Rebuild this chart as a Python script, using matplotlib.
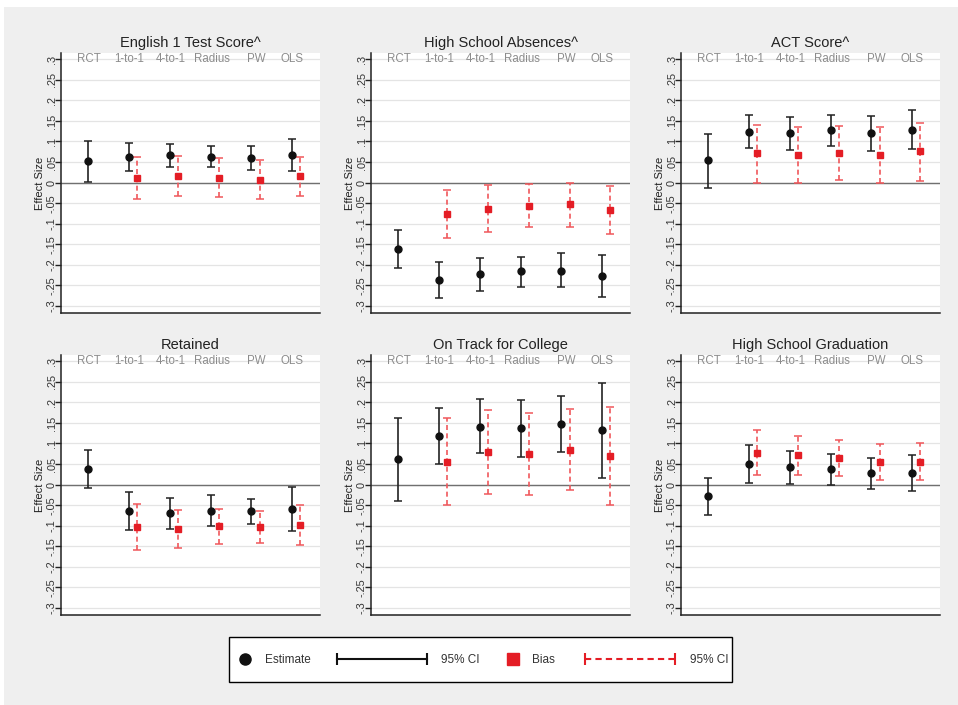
import numpy as np
import matplotlib
matplotlib.use("Agg")
import matplotlib.pyplot as plt
from matplotlib.lines import Line2D
from matplotlib.patches import Rectangle
from matplotlib.legend_handler import HandlerLine2D

plt.rcParams['font.family'] = ['Liberation Sans', 'DejaVu Sans']

# ---------------- data ----------------
methods = ["RCT", "1-to-1", "4-to-1", "Radius", "PW", "OLS"]
label_pos = [1.02, 2.0, 3.01, 4.02, 5.12, 6.0]
titles = ["English 1 Test Score^", "High School Absences^", "ACT Score^",
          "Retained", "On Track for College", "High School Graduation"]
ytick_vals = [0.3, 0.25, 0.2, 0.15, 0.1, 0.05, 0.0, -0.05, -0.1, -0.15, -0.2, -0.25, -0.3]
ytick_labels = [".3", ".25", ".2", ".15", ".1", ".05", "0", "-.05", "-.1", "-.15", "-.2", "-.25", "-.3"]

# English 1 Test Score
eng_est = [0.052, 0.062, 0.067, 0.063, 0.059, 0.067]
eng_est_lo = [0.002, 0.029, 0.039, 0.037, 0.030, 0.028]
eng_est_hi = [0.102, 0.097, 0.095, 0.089, 0.088, 0.105]
eng_bias = [0.011, 0.015, 0.011, 0.007, 0.015]
eng_bias_lo = [-0.041, -0.033, -0.036, -0.039, -0.033]
eng_bias_hi = [0.061, 0.064, 0.059, 0.054, 0.062]

# High School Absences
abs_est = [-0.161, -0.237, -0.223, -0.216, -0.214, -0.227]
abs_est_lo = [-0.208, -0.280, -0.263, -0.255, -0.255, -0.279]
abs_est_hi = [-0.115, -0.192, -0.184, -0.180, -0.172, -0.176]
abs_bias = [-0.076, -0.063, -0.057, -0.053, -0.066]
abs_bias_lo = [-0.135, -0.119, -0.109, -0.107, -0.124]
abs_bias_hi = [-0.017, -0.007, -0.004, 0.000, -0.008]

# ACT Score
act_est = [0.054, 0.124, 0.120, 0.127, 0.120, 0.129]
act_est_lo = [-0.013, 0.083, 0.080, 0.089, 0.077, 0.081]
act_est_hi = [0.119, 0.165, 0.160, 0.164, 0.163, 0.176]
act_bias = [0.071, 0.067, 0.073, 0.067, 0.076]
act_bias_lo = [0.000, -0.002, 0.007, -0.002, 0.005]
act_bias_hi = [0.141, 0.134, 0.138, 0.134, 0.145]

# Retained
ret_est = [0.037, -0.064, -0.070, -0.063, -0.065, -0.059]
ret_est_lo = [-0.009, -0.111, -0.107, -0.101, -0.096, -0.114]
ret_est_hi = [0.083, -0.019, -0.033, -0.026, -0.035, -0.006]
ret_bias = [-0.102, -0.108, -0.101, -0.102, -0.098]
ret_bias_lo = [-0.158, -0.155, -0.145, -0.143, -0.146]
ret_bias_hi = [-0.047, -0.061, -0.059, -0.063, -0.049]

# On Track for College
otc_est = [0.062, 0.119, 0.141, 0.137, 0.147, 0.133]
otc_est_lo = [-0.040, 0.050, 0.076, 0.068, 0.080, 0.016]
otc_est_hi = [0.163, 0.187, 0.207, 0.205, 0.215, 0.248]
otc_bias = [0.056, 0.079, 0.074, 0.085, 0.070]
otc_bias_lo = [-0.050, -0.023, -0.026, -0.014, -0.049]
otc_bias_hi = [0.162, 0.181, 0.175, 0.184, 0.189]

# High School Graduation
grd_est = [-0.028, 0.050, 0.043, 0.037, 0.027, 0.028]
grd_est_lo = [-0.074, 0.004, 0.002, -0.002, -0.011, -0.015]
grd_est_hi = [0.017, 0.097, 0.082, 0.074, 0.064, 0.071]
grd_bias = [0.078, 0.071, 0.065, 0.055, 0.056]
grd_bias_lo = [0.024, 0.023, 0.021, 0.011, 0.011]
grd_bias_hi = [0.133, 0.118, 0.108, 0.098, 0.100]

panels = [
    (eng_est, eng_est_lo, eng_est_hi, eng_bias, eng_bias_lo, eng_bias_hi),
    (abs_est, abs_est_lo, abs_est_hi, abs_bias, abs_bias_lo, abs_bias_hi),
    (act_est, act_est_lo, act_est_hi, act_bias, act_bias_lo, act_bias_hi),
    (ret_est, ret_est_lo, ret_est_hi, ret_bias, ret_bias_lo, ret_bias_hi),
    (otc_est, otc_est_lo, otc_est_hi, otc_bias, otc_bias_lo, otc_bias_hi),
    (grd_est, grd_est_lo, grd_est_hi, grd_bias, grd_bias_lo, grd_bias_hi),
]

# ---------------- style ----------------
W, H = 958, 705
BG = '#efefef'
RED = '#e41d25'
RED_CI = '#f0575b'
BLACK = '#111111'
TXT = '#333333'

fig = plt.figure(figsize=(W / 100, H / 100), dpi=100, facecolor=BG)
# white strips at top and left edge
fig.add_artist(Rectangle((0, 0), 4 / W, 1, transform=fig.transFigure,
                         facecolor='white', edgecolor='none', zorder=-10))
fig.add_artist(Rectangle((0, 1 - 7 / H), 1, 7 / H, transform=fig.transFigure,
                         facecolor='white', edgecolor='none', zorder=-10))

col_left = [61, 371, 681]
row_top = [53, 355]
ax_w, ax_h = 259, 260

x = np.arange(1, 7)
xb = x[1:] + 0.2

for i, (est, lo, hi, bias, blo, bhi) in enumerate(panels):
    r, c = divmod(i, 3)
    left = col_left[c]
    top = row_top[r]
    ax = fig.add_axes([left / W, 1 - (top + ax_h) / H, ax_w / W, ax_h / H])
    ax.set_facecolor('white')
    est = np.array(est); lo = np.array(lo); hi = np.array(hi)
    bias = np.array(bias); blo = np.array(blo); bhi = np.array(bhi)

    ax.set_ylim(-0.317, 0.315)
    ax.set_xlim(0.33, 6.68)
    ax.set_yticks(ytick_vals)
    ax.set_yticklabels(ytick_labels)
    ax.set_xticks([])
    ax.tick_params(axis='y', length=4, width=1, color='#222222',
                   labelsize=7.8, labelcolor=TXT, pad=0.5)
    for lab in ax.get_yticklabels():
        lab.set_rotation(90)
        lab.set_rotation_mode('anchor')
        lab.set_ha('center')
        lab.set_va('baseline')
    ax.grid(axis='y', color='#e4e4e4', lw=0.9, zorder=0)
    ax.set_axisbelow(True)
    ax.axhline(0, color='#707070', lw=1, zorder=1)
    for s in ['top', 'right']:
        ax.spines[s].set_visible(False)
    for s in ['left', 'bottom']:
        ax.spines[s].set_color('#222222')
        ax.spines[s].set_linewidth(1.1)

    ax.errorbar(x, est, yerr=[est - lo, hi - est], fmt='o', color=BLACK,
                ecolor='#222222', elinewidth=1.2, capsize=3, capthick=1.1,
                ms=5, zorder=3)
    eb = ax.errorbar(xb, bias, yerr=[bias - blo, bhi - bias], fmt='s', color=RED,
                     ecolor=RED_CI, elinewidth=1.2, capsize=3, capthick=1.1,
                     ms=5, zorder=3)
    eb[2][0].set_linestyle((0, (3, 2)))

    for lp, m in zip(label_pos, methods):
        ax.text(lp, 0.3, m, ha='center', va='center', fontsize=8.3, color='#8c8c8c')

    ax.set_title(titles[i], fontsize=10.5, color='#222222', pad=4)
    ax.set_ylabel('Effect Size', fontsize=8, color='#222222')
    ax.yaxis.set_label_coords(-16 / ax_w, 0.5)

# ---------------- legend ----------------
fig.add_artist(Rectangle((229 / W, 1 - 682 / H), (732 - 229) / W, 45 / H,
                         transform=fig.transFigure, facecolor='white',
                         edgecolor='black', lw=1, zorder=5))

LFS = 8.5
yc = 1 - 660 / H
h_est = Line2D([], [], marker='o', color=BLACK, ls='none', ms=8)
h_ci = Line2D([], [], color=BLACK, lw=1.5, marker='|', ms=9, mew=1.5)
h_bias = Line2D([], [], marker='s', color=RED, ls='none', ms=8)
h_bci = Line2D([], [], color=RED, lw=1.5, ls=(0, (3, 2)), marker='|', ms=9, mew=1.5)

entries = [
    (h_est, 'Estimate', 239 / W, 1.0, 1.2, 1),
    (h_ci, '95% CI', 337 / W, 7.6, 1.2, 2),
    (h_bias, 'Bias', 507 / W, 1.0, 1.1, 1),
    (h_bci, '95% CI', 585 / W, 7.6, 1.3, 2),
]
for h, lab, x0, hl, htp, npts in entries:
    leg = fig.legend([h], [lab], loc='center left', bbox_to_anchor=(x0, yc),
                     frameon=False, fontsize=LFS, handlelength=hl,
                     handletextpad=htp, borderpad=0, borderaxespad=0,
                     numpoints=npts,
                     handler_map={h: HandlerLine2D(marker_pad=0, numpoints=npts)})
    leg.set_zorder(6)
    for t in leg.get_texts():
        t.set_color(TXT)

fig.savefig('out.png', dpi=100, facecolor=BG)
